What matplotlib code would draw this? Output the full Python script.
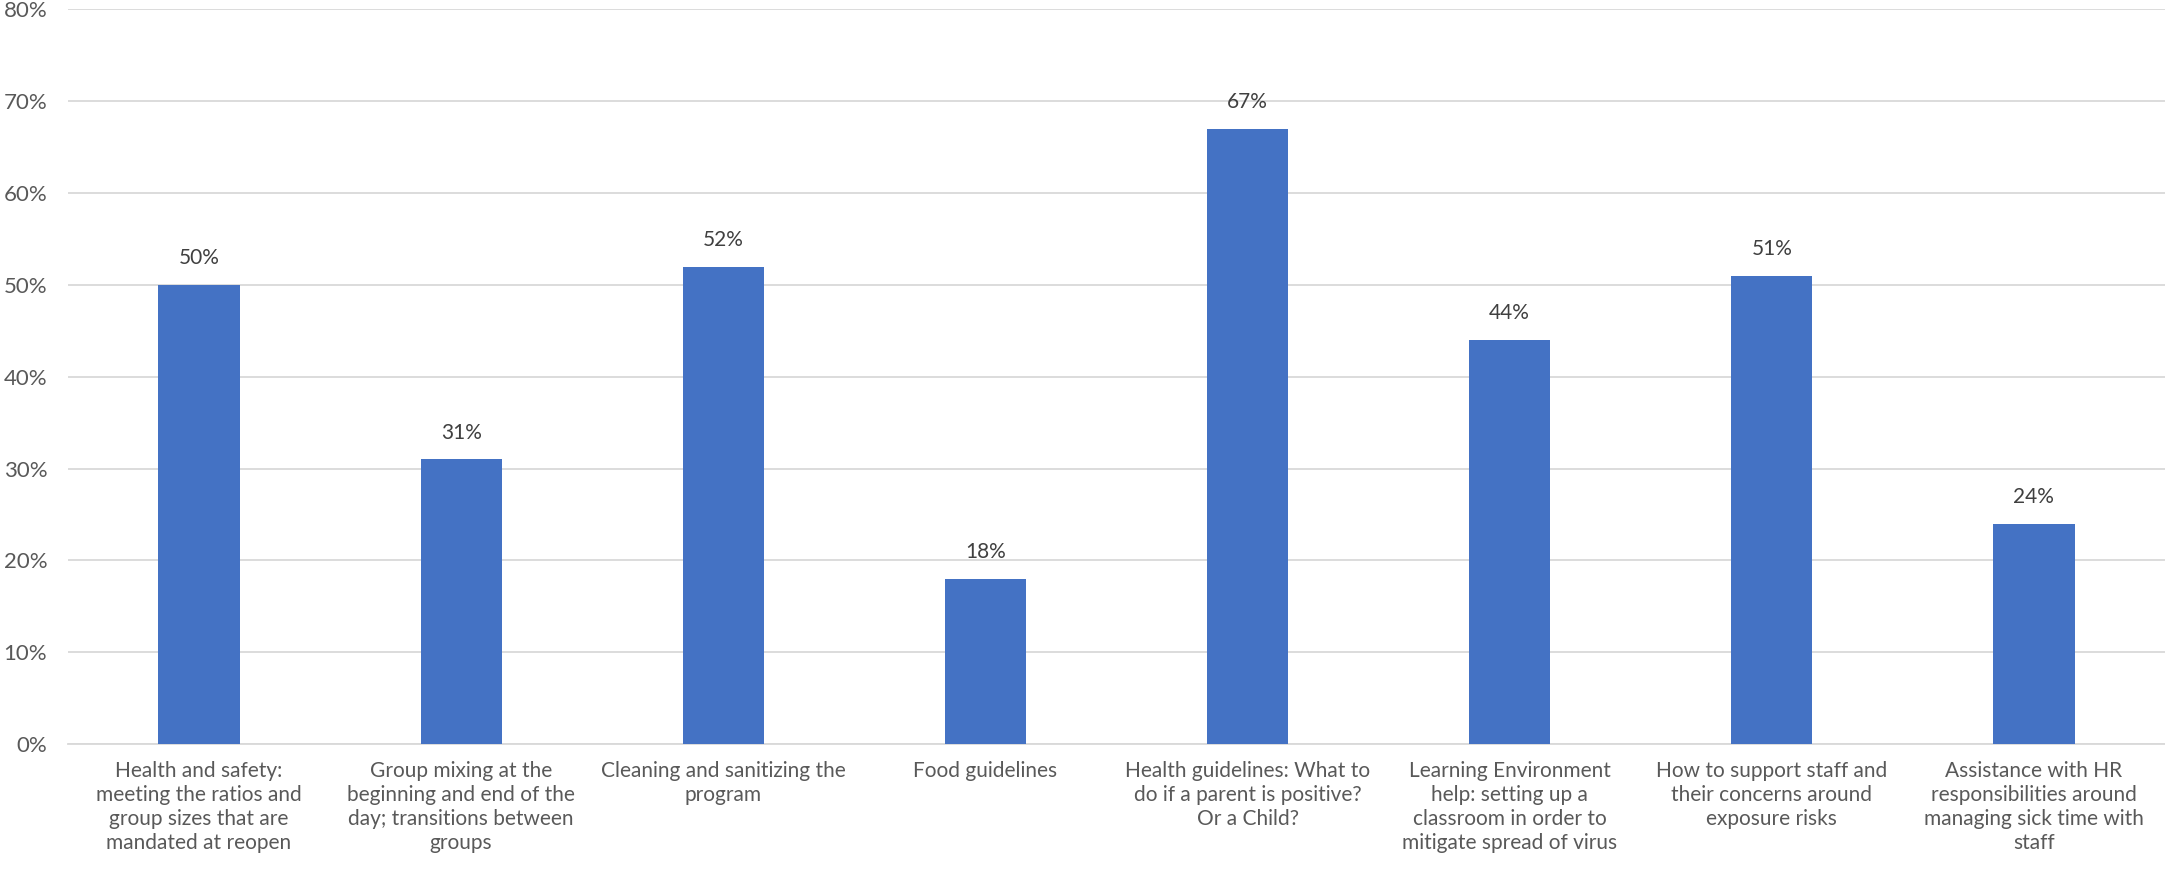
import matplotlib.pyplot as plt
import numpy as np
from matplotlib.ticker import PercentFormatter

categories = [
    'Health and safety:\nmeeting the ratios and\ngroup sizes that are\nmandated at reopen',
    'Group mixing at the\nbeginning and end of the\nday; transitions between\ngroups',
    'Cleaning and sanitizing the\nprogram',
    'Food guidelines',
    'Health guidelines: What to\ndo if a parent is positive?\nOr a Child?',
    'Learning Environment\nhelp: setting up a\nclassroom in order to\nmitigate spread of virus',
    'How to support staff and\ntheir concerns around\nexposure risks',
    'Assistance with HR\nresponsibilities around\nmanaging sick time with\nstaff',
]
values = [50, 31, 52, 18, 67, 44, 51, 24]
yticks = [0, 10, 20, 30, 40, 50, 60, 70, 80]

plt.rcParams['font.family'] = ['Lato', 'DejaVu Sans']
text_color = '#595959'

fig = plt.figure(figsize=(21.65, 8.75), dpi=100)
ax = fig.add_axes([0.0314, 0.1497, 0.9686, 0.8395])

x = np.arange(len(values))
ax.bar(x, values, width=0.31, color='#4472C4', zorder=3)
for xi, v in zip(x, values):
    ax.annotate(f'{v}%', (xi, v), xytext=(0, 12), textcoords='offset points',
                ha='center', va='bottom', fontsize=15, color='#404040')

ax.set_xlim(-0.5, len(values) - 0.5)
ax.set_ylim(0, 80)
ax.set_yticks(yticks)
ax.yaxis.set_major_formatter(PercentFormatter(decimals=0))
ax.set_xticks(x)
ax.set_xticklabels(categories, fontsize=15, color=text_color, linespacing=1.25)
ax.tick_params(axis='y', labelsize=16, labelcolor=text_color, length=0, pad=15)
ax.tick_params(axis='x', length=0, pad=12)
ax.grid(axis='y', color='#D9D9D9', linewidth=1.3, zorder=0)
for s in ['top', 'right', 'left']:
    ax.spines[s].set_visible(False)
ax.spines['bottom'].set_color('#D9D9D9')
ax.spines['bottom'].set_linewidth(1.3)

fig.savefig('out.png', dpi=100)
